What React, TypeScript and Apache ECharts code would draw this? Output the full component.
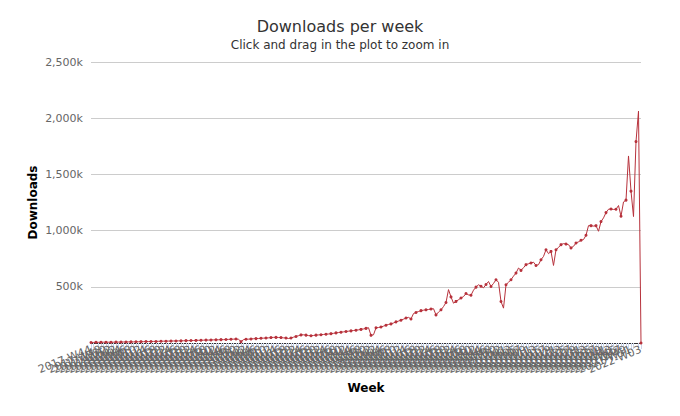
import React, { useEffect, useRef } from "react";
import * as echarts from "echarts";

// Weekly downloads, in thousands, by ISO year (2017 starts at week 44)
const years = [2017, 2018, 2019, 2020, 2021, 2022];
const firstWeek = [44, 1, 1, 1, 1, 1];

const downloads2017 = [5, 5, 6, 6, 6, 7, 7, 7, 6];
const downloads2018 = [
  7, 8, 8, 8, 9, 9, 10, 10, 10, 11, 11, 12,
  12, 13, 13, 13, 14, 14, 15, 15, 16, 16, 17, 17,
  18, 18, 19, 19, 20, 21, 21, 22, 22, 23, 24, 24,
  25, 26, 26, 27, 28, 28, 29, 30, 30, 31, 32, 33, 34, 35, 33,
  12,
];
const downloads2019 = [
  30, 33, 34, 36, 38, 39, 40, 42, 43, 44, 46, 48,
  50, 50, 49, 48, 46, 45, 40,
  45, 52, 58, 65, 72,
  73, 70, 66, 65, 67, 70, 72, 74, 76, 78, 80, 83, 86, 90,
  93, 96, 99, 102, 105, 108, 111, 114, 117, 121, 125, 130, 136,
  68,
];
const downloads2020 = [
  73, 135,
  138, 142, 150, 158, 165, 170, 178, 188, 195, 203, 212, 222,
  228, 214, 262, 272, 280, 288, 292, 295, 298, 302, 305, 250, 275, 295, 324, 360, 475,
  410, 354, 370, 385, 400, 413, 440, 428, 425, 470, 497, 518, 505, 491, 520, 547, 503, 530, 563, 540, 369, 310,
];
const downloads2021 = [
  518, 540, 563, 595, 622, 667, 646, 670, 697, 705, 712, 719, 690, 697, 741, 770, 830,
  795, 815, 690, 830, 850, 875, 884, 880, 875, 846, 860, 890, 900, 914, 920, 958,
  1044, 1044, 1040, 1044, 994, 1080, 1113, 1160, 1190, 1192, 1188, 1190, 1223, 1128, 1255, 1271,
  1664, 1351, 1125,
];
const downloads2022 = [1792, 2063, 0];

const yTicks = [0, 500, 1000, 1500, 2000, 2500];

const FONT = "DejaVu Sans";

export default function App() {
  const ref = useRef<HTMLDivElement>(null);

  useEffect(() => {
    if (!ref.current) return;
    const chart = echarts.init(ref.current, undefined, { renderer: "svg" });

    const perYear = [downloads2017, downloads2018, downloads2019, downloads2020, downloads2021, downloads2022];
    const categories: string[] = [];
    const values: number[] = [];
    perYear.forEach((arr, yi) => {
      arr.forEach((v, k) => {
        const w = firstWeek[yi] + k;
        categories.push(`${years[yi]}-W${w < 10 ? "0" + w : w}`);
        values.push(v);
      });
    });

    chart.setOption({
      animation: false,
      backgroundColor: "#ffffff",
      title: {
        text: "Downloads per week",
        subtext: "Click and drag in the plot to zoom in",
        left: "center",
        top: 13,
        itemGap: 5,
        textStyle: { fontFamily: FONT, fontSize: 16, fontWeight: "normal", color: "#333333" },
        subtextStyle: { fontFamily: FONT, fontSize: 12, color: "#333333" },
      },
      grid: { left: 91, right: 39, top: 62, bottom: 73, containLabel: false },
      xAxis: {
        type: "category",
        data: categories,
        boundaryGap: false,
        name: "Week",
        nameLocation: "middle",
        nameGap: 39,
        nameMoveOverlap: false,
        nameTextStyle: { fontFamily: FONT, fontSize: 12, fontWeight: "bold", color: "#000000" },
        axisLine: { show: true, lineStyle: { color: "#333333", width: 1 } },
        axisTick: { show: true, interval: 0, length: 6, lineStyle: { color: "#ccd6eb" } },
        axisLabel: {
          interval: 1,
          rotate: 22,
          fontFamily: FONT,
          fontSize: 11,
          color: "#666666",
          margin: 6,
          showMaxLabel: true,
          showMinLabel: true,
        },
        splitLine: { show: false },
      },
      yAxis: {
        type: "value",
        min: yTicks[0],
        max: yTicks[yTicks.length - 1],
        interval: 500,
        name: "Downloads",
        nameLocation: "middle",
        nameRotate: 90,
        nameGap: 52,
        nameMoveOverlap: false,
        nameTextStyle: { fontFamily: FONT, fontSize: 12, fontWeight: "bold", color: "#000000" },
        axisLine: { show: false },
        axisTick: { show: false },
        axisLabel: {
          fontFamily: FONT,
          fontSize: 11,
          color: "#666666",
          margin: 8,
          formatter: (v: number) => (v === 0 ? "" : `${v.toLocaleString("en-US")}k`),
        },
        splitLine: { show: true, lineStyle: { color: "#cccccc", width: 1 } },
      },
      series: [
        {
          type: "line",
          data: values,
          symbol: "circle",
          symbolSize: 3,
          showSymbol: true,
          itemStyle: { color: "#b7323c" },
          lineStyle: { color: "#b7323c", width: 1 },
        },
      ],
    });

    return () => chart.dispose();
  }, []);

  return (
    <div
      ref={ref}
      style={{ position: "fixed", left: 0, top: 0, width: 680, height: 416 }}
    />
  );
}
